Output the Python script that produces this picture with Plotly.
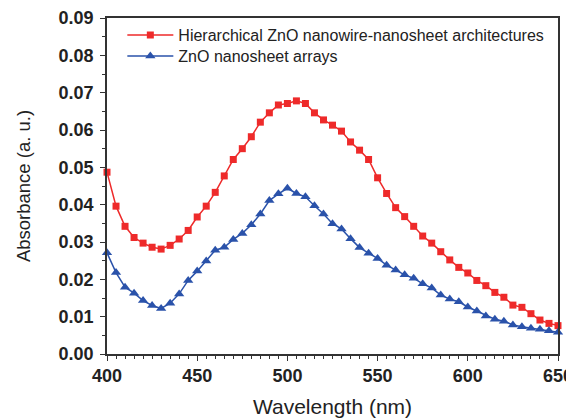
import plotly.graph_objects as go

wavelength = list(range(400, 651, 5))

hierarchical = [0.0487, 0.0396, 0.0342, 0.0312, 0.0297, 0.0286, 0.0281, 0.0291, 0.0308, 0.0331,
                0.0367, 0.0396, 0.0433, 0.0477, 0.0521, 0.0550, 0.0582, 0.0621, 0.0646, 0.0667,
                0.0671, 0.0678, 0.0671, 0.0646, 0.0627, 0.0613, 0.0597, 0.0568, 0.0546, 0.0521,
                0.0472, 0.0430, 0.0392, 0.0368, 0.0342, 0.0316, 0.0297, 0.0274, 0.0252, 0.0232,
                0.0217, 0.0197, 0.0183, 0.0165, 0.0152, 0.0131, 0.0125, 0.0108, 0.0091, 0.0082,
                0.0076]

nanosheet = [0.0271, 0.0218, 0.0179, 0.0163, 0.0143, 0.0130, 0.0122, 0.0136, 0.0161, 0.0197,
             0.0222, 0.0249, 0.0278, 0.0286, 0.0307, 0.0323, 0.0346, 0.0375, 0.0411, 0.0429,
             0.0444, 0.0430, 0.0421, 0.0397, 0.0375, 0.0349, 0.0335, 0.0309, 0.0285, 0.0270,
             0.0256, 0.0238, 0.0225, 0.0212, 0.0203, 0.0188, 0.0177, 0.0158, 0.0147, 0.0140,
             0.0126, 0.0115, 0.0102, 0.0093, 0.0088, 0.0078, 0.0073, 0.0069, 0.0066, 0.0062,
             0.0058]

names = ["Hierarchical ZnO nanowire-nanosheet architectures", "ZnO nanosheet arrays"]

FONT = "Liberation Sans, Arial, Helvetica"

fig = go.Figure()
fig.add_trace(go.Scatter(x=wavelength, y=hierarchical, name=names[0], mode="lines+markers",
                         line=dict(color="#EE2A2A", width=1.5),
                         marker=dict(symbol="square", size=7, color="#EE2A2A"),
                         cliponaxis=False, legend="legend"))
fig.add_trace(go.Scatter(x=wavelength, y=nanosheet, name=names[1], mode="lines+markers",
                         line=dict(color="#2A52AA", width=1.5),
                         marker=dict(symbol="triangle-up", size=9, color="#2A52AA"),
                         cliponaxis=False, legend="legend2"))

axis_common = dict(showline=True, linecolor="#333", linewidth=1.5, mirror=True,
                   ticks="outside", tickcolor="#333", tickwidth=1.2, ticklen=5,
                   showgrid=False, zeroline=False, automargin=False,
                   tickfont=dict(family=FONT, size=18, color="#222", weight="bold"))

fig.update_xaxes(range=[400, 650], dtick=50, tick0=400,
                 minor=dict(ticks="outside", dtick=5, ticklen=3, tickcolor="#333", tickwidth=1),
                 title=dict(text="Wavelength (nm)", font=dict(family=FONT, size=21, color="#222"), standoff=18),
                 **axis_common)
fig.update_yaxes(range=[0, 0.09], dtick=0.01, tick0=0, tickformat=".2f",
                 minor=dict(ticks="outside", dtick=0.005, ticklen=3, tickcolor="#333", tickwidth=1),
                 ticklabelstandoff=3,
                 title=dict(text="Absorbance (a. u.)", font=dict(family=FONT, size=18.5, color="#222"), standoff=23),
                 **axis_common)

legend_common = dict(xanchor="left", yanchor="top", bgcolor="rgba(0,0,0,0)",
                     font=dict(size=16, color="#222", family=FONT), itemwidth=46)

fig.update_layout(
    width=566, height=410,
    margin=dict(l=99, r=16, t=10, b=64),
    paper_bgcolor="white", plot_bgcolor="white",
    font=dict(family=FONT, color="#222"),
    showlegend=True,
    legend=dict(x=0.034, y=1.0, **legend_common),
    legend2=dict(x=0.034, y=0.9375, **legend_common),
)

fig.write_html("out.html")
